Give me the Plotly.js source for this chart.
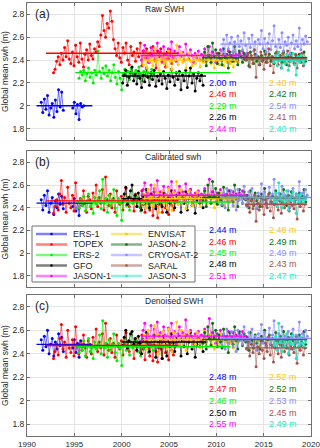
<!DOCTYPE html>
<html>
<head>
<meta charset="utf-8">
<script src="https://cdn.plot.ly/plotly-3.0.1.min.js"></script>
<style>
  html, body { margin: 0; padding: 0; background: #fff; overflow: hidden; }
  #chart { width: 320px; height: 448px; }
</style>
</head>
<body>
<div id="chart"></div>
<script>
// missions in drawing order
const missions = ['ERS-1', 'TOPEX', 'ERS-2', 'GFO', 'JASON-1', 'ENVISAT', 'JASON-2', 'CRYOSAT-2', 'SARAL', 'JASON-3'];
const colors = ['#0000ff', '#ff0000', '#00ee00', '#000000', '#ff00ff', '#ffc800', '#0a6e0a', '#8c8cff', '#a5524a', '#1ee6c3'];
// first sample of each series (samples every 2 months)
const startYear = [1991.5, 1992.8, 1995.5, 2000.1, 2002.1, 2002.3, 2008.6, 2010.6, 2013.2, 2016.1];
// extent of the mean lines
const lineStart = [1991.0, 1992.0, 1995.1, 2000.0, 2002.0, 2002.2, 2008.5, 2010.4, 2013.0, 2016.0];
const lineEnd = [1996.9, 2006.0, 2011.5, 2008.9, 2013.3, 2012.3, 2019.6, 2020.0, 2019.6, 2019.6];

const yearTicks = [1990, 1995, 2000, 2005, 2010, 2015, 2020];
const swhTicks = [1.8, 2, 2.2, 2.4, 2.6, 2.8];
const swhLabels = ['1.8', '2', '2.2', '2.4', '2.6', '2.8'];
const panelTitles = ['Raw SWH', 'Calibrated swh', 'Denoised SWH'];
const panelTags = ['(a)', '(b)', '(c)'];

// mean values (m)
const meanRaw = [2.00, 2.46, 2.29, 2.26, 2.44, 2.40, 2.42, 2.54, 2.41, 2.40];
const meanCal = [2.44, 2.46, 2.45, 2.48, 2.51, 2.48, 2.49, 2.49, 2.43, 2.47];
const meanDen = [2.48, 2.47, 2.46, 2.50, 2.55, 2.52, 2.52, 2.53, 2.45, 2.49];

// ---- raw swh ----
const ers1Raw = [2.03,1.94,2.06,1.97,2.09,1.92,1.98,2.02,1.90,2.05,1.95,2.14,1.99,2.12,1.96,null,null,null,null,null,1.98,2.03,1.93,2.01,1.88,2.02,1.99,2.00];
const topexRaw = [2.29,2.32,2.39,2.43,2.36,2.46, 2.40,2.51,2.43,2.57,2.41,2.37, 2.47,2.35,2.53,2.43,2.38,2.55,
  2.41,2.34,2.45,2.49,2.40,2.54, 2.44,2.41,2.50,2.47,2.56,2.52, 2.62,2.79,2.66,2.60,2.72,2.68,
  2.83,2.74,2.58,2.50,2.44,2.55, 2.42,2.38,2.51,2.46,2.55,2.40, 2.36,2.52,2.44,2.47,2.39,2.50,
  2.43,2.55,2.35,2.48,2.42,2.50, 2.38,2.46,2.44,2.52,2.40,2.33, 2.48,2.43,2.50,2.38,2.45,2.34,
  2.47,2.41,2.49,2.37,2.44,2.40];
const ers2Raw = [2.24,2.30,2.27,2.31,2.22,2.28, 2.33,2.25,2.29,2.20,2.31,2.27, 2.48,2.30,2.24,2.33,2.28,2.35,
  2.26,2.31,2.22,2.29,2.36,2.25, 2.19,2.30,2.24,2.14,2.28,2.32, 2.26,2.30,2.23,2.33,2.27,2.29,
  2.31,2.25,2.34,2.28,2.22,2.30, 2.27,2.33,2.29,2.24,2.32,2.28];
const gfoRaw = [2.20,2.27,2.31,2.18,2.25,2.29, 2.34,2.22,2.28,2.19,2.30,2.24, 2.16,2.27,2.21,2.33,2.25,2.18,
  2.29,2.23,2.31,2.17,2.26,2.22, 2.28,2.19,2.30,2.24,2.15,2.27, 2.21,2.32,2.25,2.18,2.29,2.23,
  2.30,2.14,2.27,2.22,2.31,2.16, 2.26,2.33,2.20,2.28,2.13,2.24, 2.29,2.22,2.27,2.18];
const jason1Raw = [2.40,2.48,2.53,2.42,2.46,2.38, 2.51,2.44,2.49,2.40,2.55,2.43, 2.47,2.39,2.52,2.45,2.41,2.50,
  2.44,2.56,2.42,2.48,2.39,2.46, 2.52,2.43,2.47,2.40,2.54,2.45, 2.41,2.49,2.44,2.38,2.46,2.42,
  2.48,2.40,2.45,2.43,2.50,2.39, 2.44,2.52,2.41,2.47,2.43,2.38, 2.46,2.42,2.49,2.40,2.45,2.43,
  2.41,2.48,2.44,2.39,2.47,2.42, 2.45,2.40,2.46,2.43,2.48,2.41, 2.44];
const envisatRaw = [2.36,2.44,2.33,2.47,2.39,2.42, 2.35,2.50,2.38,2.44,2.31,2.41, 2.46,2.37,2.43,2.34,2.48,2.39,
  2.32,2.45,2.40,2.53,2.36,2.42, 2.47,2.38,2.44,2.33,2.41,2.46, 2.39,2.35,2.43,2.37,2.45,2.40,
  2.34,2.42,2.38,2.46,2.36,2.41, 2.44,2.37,2.40,2.33,2.43,2.39, 2.36,2.45,2.40,2.35,2.42,2.38,
  2.43,2.37,2.41,2.34,2.39,2.40, 2.38];
const jason2Raw = [2.40,2.47,2.35,2.52,2.44,2.38, 2.55,2.43,2.49,2.37,2.46,2.41, 2.36,2.50,2.42,2.45,2.33,2.47,
  2.44,2.39,2.52,2.41,2.36,2.48, 2.43,2.38,2.46,2.40,2.44,2.35, 2.47,2.41,2.37,2.45,2.39,2.43,
  2.36,2.44,2.40,2.48,2.38,2.42, 2.45,2.39,2.43,2.37,2.46,2.41, 2.40,2.44,2.38,2.47,2.42,2.36,
  2.43,2.39,2.46,2.41,2.37,2.44, 2.40,2.45,2.38,2.42,2.47,2.39];
const cryosatRaw = [2.48,2.58,2.45,2.62,2.50,2.55, 2.60,2.47,2.56,2.43,2.61,2.52, 2.57,2.49,2.64,2.53,2.46,2.59,
  2.51,2.62,2.48,2.56,2.44,2.58, 2.54,2.66,2.50,2.59,2.47,2.55, 2.63,2.49,2.57,2.70,2.52,2.46,
  2.58,2.51,2.64,2.48,2.56,2.53, 2.60,2.45,2.55,2.62,2.50,2.57, 2.52,2.68,2.49,2.58,2.54,2.61, 2.56];
const saralRaw = [2.40,2.46,2.34,2.44,2.37,2.49, 2.25,2.42,2.36,2.47,2.39,2.32, 2.45,2.38,2.50,2.35,2.43,2.29,
  2.41,2.47,2.36,2.44,2.33,2.46, 2.38,2.42,2.48,2.35,2.43,2.40, 2.37,2.45,2.33,2.42,2.39,2.46, 2.35,2.41];
const jason3Raw = [2.38,2.44,2.35,2.47,2.40,2.33, 2.42,2.37,2.45,2.31,2.41,2.39, 2.46,2.36,2.27,2.43,2.38,2.44, 2.40,2.37,2.42];

// ---- calibrated swh ----
const ers1Cal = [2.47,2.38,2.51,2.42,2.55,2.36,2.44,2.49,2.34,2.46,2.40,2.52,2.43,2.50,2.39,null,null,null,null,null,2.41,2.48,2.37,2.45,2.33,2.47,2.42,2.44];
const topexCal = [2.35,2.41,2.47,2.38,2.52,2.64, 2.43,2.49,2.36,2.58,2.44,2.40, 2.51,2.37,2.62,2.45,2.39,2.48,
  2.42,2.55,2.44,2.36,2.50,2.47, 2.39,2.53,2.45,2.60,2.41,2.49, 2.44,2.56,2.38,2.67,2.47,2.42,
  2.52,2.40,2.48,2.36,2.55,2.45, 2.43,2.50,2.38,2.47,2.57,2.44, 2.41,2.49,2.46,2.37,2.52,2.45,
  2.48,2.40,2.55,2.43,2.36,2.50, 2.44,2.38,2.52,2.33,2.47,2.41, 2.31,2.49,2.43,2.36,2.51,2.40,
  2.46,2.34,2.48,2.42,2.38,2.45];
const ers2Cal = [2.40,2.47,2.42,2.50,2.37,2.46, 2.52,2.41,2.44,2.35,2.49,2.43, 2.47,2.55,2.39,2.65,2.44,2.48,
  2.36,2.51,2.42,2.47,2.56,2.40, 2.33,2.48,2.44,2.29,2.46,2.52, 2.42,2.49,2.38,2.55,2.44,2.47,
  2.50,2.41,2.46,2.37,2.52,2.44, 2.43,2.48,2.40,2.51,2.45,2.42];
const gfoCal = [2.45,2.52,2.58,2.43,2.49,2.55, 2.60,2.46,2.51,2.41,2.53,2.47, 2.38,2.50,2.44,2.56,2.47,2.40,
  2.52,2.45,2.54,2.39,2.48,2.43, 2.50,2.41,2.53,2.46,2.36,2.49, 2.44,2.55,2.47,2.40,2.51,2.45,
  2.53,2.36,2.49,2.44,2.54,2.38, 2.48,2.56,2.42,2.50,2.35,2.46, 2.51,2.44,2.49,2.40];
const jason1Cal = [2.47,2.56,2.62,2.49,2.53,2.45, 2.60,2.50,2.57,2.46,2.64,2.51, 2.54,2.45,2.59,2.52,2.47,2.58,
  2.50,2.63,2.48,2.55,2.45,2.53, 2.59,2.49,2.54,2.46,2.61,2.52, 2.48,2.56,2.51,2.44,2.53,2.49,
  2.55,2.47,2.52,2.50,2.57,2.46, 2.51,2.65,2.48,2.54,2.50,2.45, 2.53,2.49,2.56,2.47,2.52,2.50,
  2.48,2.55,2.51,2.46,2.54,2.49, 2.52,2.47,2.53,2.50,2.55,2.48, 2.51];
const envisatCal = [2.44,2.52,2.40,2.56,2.47,2.50, 2.42,2.60,2.45,2.53,2.36,2.49, 2.55,2.44,2.51,2.40,2.57,2.47,
  2.38,2.54,2.48,2.63,2.43,2.50, 2.56,2.45,2.52,2.39,2.49,2.55, 2.47,2.42,2.51,2.44,2.54,2.48,
  2.41,2.50,2.46,2.55,2.43,2.49, 2.52,2.44,2.48,2.40,2.51,2.47, 2.43,2.53,2.48,2.42,2.50,2.46,
  2.51,2.45,2.49,2.41,2.47,2.48, 2.46];
const jason2Cal = [2.46,2.55,2.41,2.60,2.50,2.44, 2.63,2.50,2.57,2.43,2.53,2.47, 2.42,2.58,2.49,2.52,2.38,2.55,
  2.51,2.45,2.60,2.48,2.41,2.56, 2.50,2.44,2.54,2.47,2.51,2.40, 2.55,2.48,2.42,2.53,2.46,2.50,
  2.41,2.52,2.47,2.57,2.44,2.49, 2.53,2.45,2.50,2.43,2.55,2.48, 2.47,2.52,2.44,2.56,2.49,2.42,
  2.51,2.46,2.54,2.48,2.43,2.52, 2.47,2.53,2.44,2.50,2.56,2.45];
const cryosatCal = [2.43,2.53,2.40,2.57,2.45,2.50, 2.55,2.42,2.51,2.38,2.56,2.47, 2.52,2.44,2.59,2.48,2.41,2.54,
  2.46,2.57,2.43,2.51,2.39,2.53, 2.49,2.61,2.45,2.54,2.42,2.50, 2.58,2.44,2.52,2.65,2.47,2.41,
  2.53,2.46,2.59,2.43,2.51,2.48, 2.55,2.40,2.50,2.57,2.45,2.52, 2.47,2.63,2.44,2.53,2.49,2.56, 2.51];
const saralCal = [2.42,2.48,2.36,2.46,2.39,2.51, 2.28,2.44,2.38,2.49,2.41,2.34, 2.47,2.40,2.52,2.37,2.45,2.31,
  2.43,2.49,2.38,2.46,2.35,2.48, 2.40,2.44,2.50,2.37,2.45,2.42, 2.39,2.47,2.30,2.44,2.41,2.48, 2.37,2.43];
const jason3Cal = [2.45,2.53,2.41,2.62,2.48,2.40, 2.50,2.44,2.55,2.38,2.49,2.46, 2.54,2.43,2.35,2.51,2.45,2.52, 2.47,2.44,2.49];

// ---- denoised swh ----
const ers1Den = [2.52,2.43,2.55,2.46,2.60,2.40,2.48,2.53,2.38,2.50,2.44,2.57,2.47,2.54,2.42,null,null,null,null,null,2.45,2.52,2.41,2.49,2.37,2.51,2.46,2.48];
const topexDen = [2.36,2.42,2.48,2.39,2.53,2.65, 2.44,2.50,2.37,2.60,2.45,2.41, 2.52,2.38,2.63,2.46,2.40,2.49,
  2.43,2.56,2.45,2.37,2.51,2.48, 2.40,2.54,2.46,2.61,2.42,2.50, 2.45,2.57,2.39,2.66,2.48,2.43,
  2.53,2.41,2.49,2.37,2.56,2.46, 2.44,2.51,2.39,2.48,2.58,2.45, 2.42,2.50,2.47,2.36,2.53,2.46,
  2.49,2.41,2.56,2.44,2.35,2.51, 2.45,2.38,2.53,2.34,2.48,2.42, 2.33,2.50,2.44,2.36,2.52,2.41,
  2.47,2.35,2.49,2.43,2.39,2.46];
const ers2Den = [2.41,2.48,2.43,2.51,2.38,2.47, 2.53,2.42,2.45,2.36,2.50,2.44, 2.48,2.56,2.40,2.68,2.45,2.49,
  2.37,2.52,2.43,2.48,2.57,2.41, 2.34,2.49,2.45,2.30,2.47,2.53, 2.43,2.50,2.39,2.56,2.45,2.48,
  2.51,2.42,2.47,2.38,2.53,2.45, 2.44,2.49,2.41,2.52,2.46,2.43];
const gfoDen = [2.47,2.54,2.60,2.45,2.51,2.57, 2.59,2.48,2.53,2.43,2.55,2.49, 2.40,2.52,2.46,2.58,2.49,2.42,
  2.54,2.47,2.56,2.37,2.50,2.45, 2.52,2.36,2.55,2.48,2.38,2.51, 2.46,2.57,2.49,2.42,2.53,2.47,
  2.55,2.38,2.51,2.46,2.56,2.40, 2.50,2.58,2.44,2.52,2.37,2.48, 2.53,2.46,2.51,2.42];
const jason1Den = [2.51,2.60,2.66,2.53,2.57,2.49, 2.64,2.54,2.61,2.50,2.67,2.55, 2.58,2.49,2.63,2.56,2.51,2.62,
  2.54,2.66,2.52,2.59,2.49,2.57, 2.63,2.53,2.58,2.50,2.69,2.56, 2.52,2.60,2.55,2.48,2.57,2.53,
  2.59,2.51,2.56,2.54,2.61,2.50, 2.55,2.70,2.52,2.58,2.54,2.49, 2.57,2.53,2.60,2.51,2.56,2.54,
  2.52,2.59,2.55,2.50,2.58,2.53, 2.56,2.51,2.57,2.54,2.59,2.52, 2.55];
const envisatDen = [2.48,2.56,2.44,2.60,2.51,2.54, 2.46,2.64,2.49,2.57,2.40,2.53, 2.59,2.48,2.55,2.44,2.61,2.51,
  2.42,2.58,2.52,2.67,2.47,2.54, 2.60,2.49,2.56,2.43,2.53,2.59, 2.51,2.46,2.55,2.48,2.58,2.52,
  2.45,2.54,2.50,2.59,2.47,2.53, 2.56,2.48,2.52,2.44,2.55,2.51, 2.47,2.57,2.52,2.46,2.54,2.50,
  2.55,2.49,2.53,2.45,2.51,2.52, 2.50];
const jason2Den = [2.49,2.58,2.44,2.63,2.53,2.47, 2.66,2.53,2.60,2.46,2.56,2.50, 2.45,2.61,2.52,2.55,2.41,2.58,
  2.54,2.48,2.63,2.51,2.44,2.59, 2.53,2.47,2.57,2.50,2.54,2.43, 2.58,2.51,2.45,2.56,2.49,2.53,
  2.44,2.55,2.50,2.60,2.47,2.52, 2.56,2.48,2.53,2.46,2.58,2.51, 2.50,2.55,2.47,2.59,2.52,2.45,
  2.54,2.49,2.57,2.51,2.46,2.55, 2.50,2.56,2.47,2.53,2.59,2.48];
const cryosatDen = [2.47,2.57,2.44,2.61,2.49,2.54, 2.59,2.46,2.55,2.42,2.60,2.51, 2.56,2.48,2.63,2.52,2.45,2.58,
  2.50,2.61,2.47,2.55,2.43,2.57, 2.53,2.65,2.49,2.58,2.46,2.54, 2.62,2.48,2.56,2.68,2.51,2.45,
  2.57,2.50,2.63,2.47,2.55,2.52, 2.59,2.44,2.54,2.61,2.49,2.56, 2.51,2.67,2.48,2.57,2.53,2.60, 2.55];
const saralDen = [2.44,2.50,2.38,2.48,2.41,2.53, 2.29,2.46,2.40,2.51,2.43,2.36, 2.49,2.42,2.54,2.39,2.47,2.33,
  2.45,2.51,2.40,2.48,2.37,2.50, 2.42,2.46,2.52,2.39,2.47,2.44, 2.41,2.49,2.32,2.46,2.43,2.50, 2.39,2.45];
const jason3Den = [2.47,2.55,2.43,2.66,2.50,2.42, 2.52,2.46,2.57,2.40,2.51,2.48, 2.56,2.45,2.36,2.53,2.47,2.54, 2.49,2.46,2.51];

const rawSeries = [ers1Raw, topexRaw, ers2Raw, gfoRaw, jason1Raw, envisatRaw, jason2Raw, cryosatRaw, saralRaw, jason3Raw];
const calSeries = [ers1Cal, topexCal, ers2Cal, gfoCal, jason1Cal, envisatCal, jason2Cal, cryosatCal, saralCal, jason3Cal];
const denSeries = [ers1Den, topexDen, ers2Den, gfoDen, jason1Den, envisatDen, jason2Den, cryosatDen, saralDen, jason3Den];

// figure geometry (px)
const W = 320, H = 448;
const mar = {l: 27, r: 9, t: 0, b: 12};
const plotW = W - mar.l - mar.r, plotH = H - mar.t - mar.b;
const px = p => (p - mar.l) / plotW;
const py = p => (H - mar.b - p) / plotH;
const panelPx = [[3, 140], [151, 287], [295, 436]];

const txt = '#262626';
const frame = '#707070';
const fnt = 'Liberation Sans, Arial, Helvetica, sans-serif';

function fade(hex, a) {
  const n = parseInt(hex.slice(1), 16);
  return `rgba(${(n >> 16) & 255},${(n >> 8) & 255},${n & 255},${a})`;
}

const traces = [];
const annotations = [];
const shapes = [];
const layout = {
  width: W, height: H,
  margin: mar,
  paper_bgcolor: '#fff', plot_bgcolor: '#fff',
  showlegend: false,
  font: {family: fnt, size: 8.5, color: txt}
};

function addPanel(series, means, k) {
  const sfx = k ? String(k + 1) : '';
  const xa = 'x' + sfx, ya = 'y' + sfx;

  series.forEach((vals, i) => {
    traces.push({
      type: 'scatter', mode: 'lines+markers',
      x: vals.map((_, j) => startYear[i] + j / 6), y: vals,
      xaxis: xa, yaxis: ya,
      line: {color: fade(colors[i], 0.55), width: 1},
      marker: {color: colors[i], size: 3},
      hoverinfo: 'skip'
    });
  });
  means.forEach((m, i) => {
    traces.push({
      type: 'scatter', mode: 'lines',
      x: [lineStart[i], lineEnd[i]], y: [m, m],
      xaxis: xa, yaxis: ya,
      line: {color: colors[i], width: 1.4},
      hoverinfo: 'skip'
    });
    annotations.push({
      xref: xa, yref: ya,
      x: i < 5 ? 2009.0 : 2015.4, y: 2.2 - 0.1 * (i % 5),
      xanchor: 'left', yanchor: 'middle', showarrow: false,
      text: m.toFixed(2) + ' m',
      font: {size: 9, color: colors[i], family: fnt}
    });
  });

  annotations.push({
    xref: xa + ' domain', yref: ya + ' domain', x: 0.02, y: 0.985,
    xanchor: 'left', yanchor: 'top', showarrow: false,
    text: panelTags[k], font: {size: 12, color: txt, family: fnt}
  });
  annotations.push({
    xref: xa + ' domain', yref: ya + ' domain', x: px(143), y: 1,
    xanchor: 'left', yanchor: 'top', showarrow: false, yshift: 1,
    text: panelTitles[k], font: {size: 8.5, color: txt, family: fnt}
  });

  const [top, bot] = panelPx[k];
  layout['xaxis' + sfx] = {
    anchor: ya, domain: [0, 1], range: [1990, 2020],
    tickvals: yearTicks, ticktext: yearTicks.map(String),
    showticklabels: k === 2, ticklabeloverflow: 'allow',
    showgrid: true, gridcolor: '#e4e4e4', gridwidth: 1, zeroline: false,
    showline: true, mirror: 'allticks', linecolor: frame, linewidth: 1,
    ticks: 'inside', ticklen: 3, tickcolor: frame,
    tickfont: {size: 8, color: txt, family: fnt}
  };
  layout['yaxis' + sfx] = {
    anchor: xa, domain: [py(bot), py(top)], range: [1.7, 2.9],
    tickvals: swhTicks, ticktext: swhLabels,
    showgrid: true, gridcolor: '#e4e4e4', gridwidth: 1, zeroline: false,
    showline: true, mirror: 'allticks', linecolor: frame, linewidth: 1,
    ticks: 'inside', ticklen: 3, tickcolor: frame,
    tickfont: {size: 8.5, color: txt, family: fnt},
    title: {text: 'Global mean swh (m)', font: {size: 8.5, color: txt, family: fnt}, standoff: 3}
  };
}

addPanel(rawSeries, meanRaw, 0);
addPanel(calSeries, meanCal, 1);
addPanel(denSeries, meanDen, 2);

// legend box drawn inside panel (b), two columns of five
const legBox = {x0: 32, x1: 195, y0: 226, y1: 282};
const legRows = [234, 244.5, 255, 265.5, 276];
const legCols = [{l0: 36, l1: 67, tx: 71}, {l0: 111, l1: 142, tx: 146}];
shapes.push({
  type: 'rect', xref: 'paper', yref: 'paper', layer: 'above',
  x0: px(legBox.x0), x1: px(legBox.x1), y0: py(legBox.y1), y1: py(legBox.y0),
  fillcolor: '#fff', line: {color: frame, width: 1}
});
missions.forEach((name, i) => {
  const c = legCols[Math.floor(i / 5)];
  const yy = py(legRows[i % 5]);
  const xm = (c.l0 + c.l1) / 2;
  shapes.push({
    type: 'line', xref: 'paper', yref: 'paper', layer: 'above',
    x0: px(c.l0), x1: px(c.l1), y0: yy, y1: yy,
    line: {color: fade(colors[i], 0.5), width: 2.5}
  });
  shapes.push({
    type: 'circle', xref: 'paper', yref: 'paper', layer: 'above',
    x0: px(xm - 1.3), x1: px(xm + 1.3), y0: yy - 1.3 / plotH, y1: yy + 1.3 / plotH,
    fillcolor: colors[i], line: {width: 0}
  });
  annotations.push({
    xref: 'paper', yref: 'paper', x: px(c.tx), y: yy,
    xanchor: 'left', yanchor: 'middle', showarrow: false,
    text: name, font: {size: 9, color: txt, family: fnt}
  });
});

layout.annotations = annotations;
layout.shapes = shapes;

Plotly.newPlot('chart', traces, layout, {displayModeBar: false, staticPlot: true});
</script>
</body>
</html>
